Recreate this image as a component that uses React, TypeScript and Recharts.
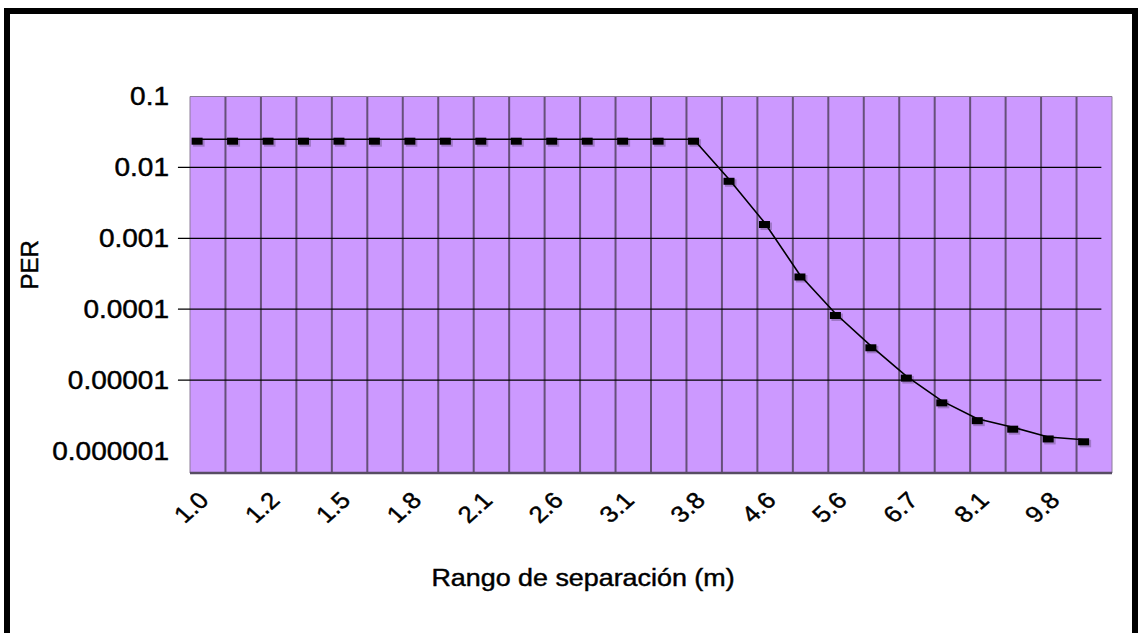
import React from "react"
import {
  LineChart,
  Line,
  XAxis,
  YAxis,
  CartesianGrid,
  ReferenceLine,
  ReferenceArea,
  Label,
} from "recharts"

// separation range (m), one per column; only every other one is labelled
const categories = [
  "1.0", "1.1", "1.2", "1.3", "1.5", "1.6", "1.8", "1.9", "2.1", "2.4",
  "2.6", "2.9", "3.1", "3.5", "3.8", "4.2", "4.6", "5.1", "5.6", "6.1",
  "6.7", "7.4", "8.1", "9.0", "9.8", "10.8",
]

// packet error rate
const perValues = [
  0.025, 0.025, 0.025, 0.025, 0.025, 0.025, 0.025, 0.025, 0.025, 0.025,
  0.025, 0.025, 0.025, 0.025, 0.025, 0.0068, 0.00167, 0.000304, 0.000087,
  0.0000305, 0.0000114, 0.0000051, 0.00000286, 0.00000217, 0.00000158,
  0.00000144,
]

const yTicks = [0.1, 0.01, 0.001, 0.0001, 0.00001, 0.000001]
const yTickLabels = ["0.1", "0.01", "0.001", "0.0001", "0.00001", "0.000001"]
const gridValues = [0.01, 0.001, 0.0001, 0.00001]

const X_MIN = -0.2
const X_MAX = 25.8
const Y_MIN = 4.9e-7
const Y_MAX = 0.1
const LABEL_SHIFT = 0.5 + X_MIN
const STRETCH = 1.12
const FONT = '"Liberation Sans", Arial, sans-serif'

const data = categories.map((range, i) => ({ idx: i, range, per: perValues[i] }))
const xTicks = categories.map((_, i) => i).filter((i) => i % 2 === 0).map((i) => i + LABEL_SHIFT)

const textStyle = { fontFamily: FONT, fill: "#000", stroke: "#000", strokeWidth: 0.45 }

function XTick({ x, y, payload }: any) {
  const label = categories[Math.round(payload.value - LABEL_SHIFT)]
  return (
    <g transform={`translate(${x - 4},${y + 23})`}>
      <text
        transform={`scale(${STRETCH},1) rotate(-45)`}
        textAnchor="end"
        dy="0.35em"
        fontSize={23}
        style={textStyle}
      >
        {label}
      </text>
    </g>
  )
}

function YTick({ x, y, payload }: any) {
  const i = yTicks.indexOf(payload.value)
  return (
    <g transform={`translate(${x - 21},${y})`}>
      <text
        transform={`scale(${STRETCH},1)`}
        textAnchor="end"
        dy="0.35em"
        fontSize={25}
        style={textStyle}
      >
        {i >= 0 ? yTickLabels[i] : ""}
      </text>
    </g>
  )
}

function Marker({ cx, cy }: any) {
  if (cx == null || cy == null) return null
  return (
    <g>
      <rect x={cx - 4} y={cy} width={11.5} height={7.5} fill="#000" opacity={0.22} />
      <rect x={cx - 5.5} y={cy - 1.5} width={11} height={7} fill="#000" />
    </g>
  )
}

export default function App() {
  return (
    <div
      style={{
        position: "fixed",
        left: 0,
        top: 0,
        width: 1141,
        height: 633,
        background: "#fff",
        overflow: "hidden",
      }}
    >
      <div
        style={{
          position: "absolute",
          left: 4,
          top: 8,
          width: 1134,
          height: 700,
          border: "6px solid #000",
          boxSizing: "border-box",
        }}
      />
      <div style={{ position: "absolute", left: 0, top: 0 }}>
        <LineChart
          width={1141}
          height={633}
          data={data}
          margin={{ top: 96.5, right: 29, bottom: 100, left: 0 }}
        >
          <CartesianGrid
            fill="#CC99FF"
            horizontal={false}
            stroke="#66507a"
            strokeWidth={2}
            verticalCoordinatesGenerator={({ offset }: any) =>
              Array.from({ length: 25 }, (_, k) => offset.left + ((k + 1) * offset.width) / 26)
            }
          />
          <XAxis
            type="number"
            dataKey="idx"
            domain={[X_MIN, X_MAX]}
            ticks={xTicks}
            interval={0}
            allowDataOverflow
            tickLine={false}
            tickSize={0}
            tickMargin={0}
            height={60}
            axisLine={{ stroke: "#574d63", strokeWidth: 2.5 }}
            tick={<XTick />}
          >
            <Label
              content={({ viewBox }: any) => (
                <text
                  transform={`translate(${viewBox.x + viewBox.width / 2 - 68},${viewBox.y + 105}) scale(${STRETCH},1)`}
                  textAnchor="middle"
                  dy="0.35em"
                  fontSize={24}
                  style={textStyle}
                >
                  Rango de separación (m)
                </text>
              )}
            />
          </XAxis>
          <YAxis
            scale="log"
            domain={[Y_MIN, Y_MAX]}
            ticks={yTicks}
            allowDataOverflow
            width={190}
            axisLine={false}
            tickLine={false}
            tickSize={0}
            tickMargin={0}
            tick={<YTick />}
          >
            <Label
              content={({ viewBox }: any) => (
                <text
                  transform={`translate(${viewBox.x + 30},${viewBox.y + viewBox.height / 2 - 20}) rotate(-90)`}
                  textAnchor="middle"
                  dy="0.35em"
                  fontSize={24}
                  style={textStyle}
                >
                  PER
                </text>
              )}
            />
          </YAxis>
          {gridValues.map((v) => (
            <ReferenceLine
              key={v}
              segment={[
                { x: -0.54, y: v },
                { x: 25.5, y: v },
              ]}
              stroke="#000"
              strokeWidth={1.3}
              ifOverflow="visible"
            />
          ))}
          <ReferenceArea
            x1={X_MIN}
            x2={X_MAX}
            y1={Y_MIN}
            y2={Y_MAX}
            fill="none"
            stroke="#8c7d99"
            strokeWidth={1}
          />
          <Line
            type="linear"
            dataKey="per"
            stroke="#000"
            strokeWidth={1.6}
            dot={<Marker />}
            activeDot={false}
            isAnimationActive={false}
          />
        </LineChart>
      </div>
    </div>
  )
}
